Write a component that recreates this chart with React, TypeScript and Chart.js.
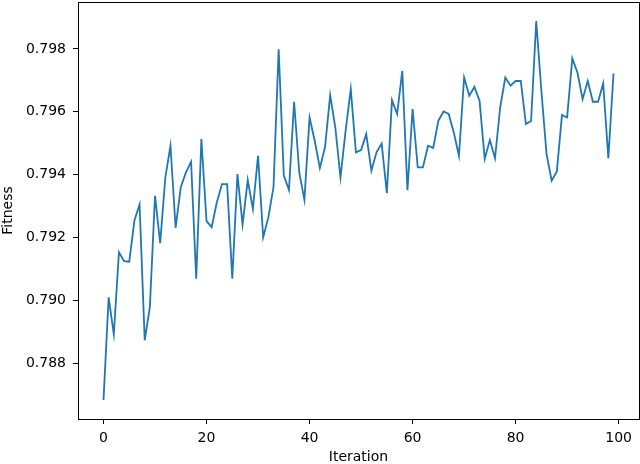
import React, { useEffect, useRef } from "react";
import { Chart, registerables } from "chart.js";

Chart.register(...registerables);

const fitness: number[] = [
  0.78683, 0.7901, 0.78892, 0.79153, 0.79125, 0.79123, 0.79254, 0.79305, 0.78873, 0.78979,
  0.79333, 0.79182, 0.79391, 0.79492, 0.79231, 0.7936, 0.79407, 0.79441, 0.79069, 0.79513,
  0.79252, 0.79233, 0.79312, 0.7937, 0.7937, 0.79069, 0.79402, 0.79241, 0.79383, 0.79291,
  0.7946, 0.79201, 0.79264, 0.7936, 0.79799, 0.79397, 0.79351, 0.79632, 0.79407, 0.7932,
  0.79582, 0.79508, 0.79421, 0.79487, 0.79653, 0.7955, 0.79391, 0.7954, 0.79672, 0.79471,
  0.79478, 0.79529, 0.79413, 0.79471, 0.79499, 0.79341, 0.79637, 0.79593, 0.7973, 0.79351,
  0.79609, 0.79423, 0.79423, 0.79492, 0.79485, 0.79571, 0.79601, 0.79593, 0.79534, 0.7946,
  0.79709, 0.79651, 0.79679, 0.79635, 0.7945, 0.7951, 0.79452, 0.79614, 0.79709, 0.79683,
  0.79698, 0.79698, 0.79561, 0.79571, 0.79889, 0.79667, 0.79466, 0.79381, 0.7941, 0.7959,
  0.79582, 0.7977, 0.79725, 0.7964, 0.79698, 0.79632, 0.79632, 0.7969, 0.79452, 0.79722,
];
const iterations: number[] = fitness.map((_, i) => i);
const xTicks: number[] = [0, 20, 40, 60, 80, 100];
const yTicks: number[] = [0.788, 0.79, 0.792, 0.794, 0.796, 0.798];
const xTitle = "Iteration";
const yTitle = "Fitness";

export default function App() {
  const ref = useRef<HTMLCanvasElement | null>(null);
  useEffect(() => {
    if (!ref.current) return;
    const yMinD = Math.min(...fitness);
    const yMaxD = Math.max(...fitness);
    const yr = yMaxD - yMinD;
    const xMinD = iterations[0];
    const xMaxD = iterations[iterations.length - 1];
    const xr = xMaxD - xMinD;
    const font = { family: "'DejaVu Sans', sans-serif", size: 14 };
    const frame = {
      id: "frame",
      afterDraw(chart: any) {
        const { ctx, chartArea: a } = chart;
        ctx.save();
        ctx.strokeStyle = "#000";
        ctx.lineWidth = 1;
        ctx.strokeRect(Math.round(a.left) + 0.5, Math.round(a.top) + 0.5, Math.round(a.right - a.left), Math.round(a.bottom - a.top));
        ctx.restore();
      },
    };
    const zeroPad = (s: any) => {
      s.paddingTop = 0;
      s.paddingBottom = 0;
      s.paddingLeft = 0;
      s.paddingRight = 0;
    };
    const chart = new Chart(ref.current, {
      type: "line",
      data: {
        datasets: [
          {
            data: fitness.map((v, i) => ({ x: iterations[i], y: v })),
            borderColor: "#1f77b4",
            borderWidth: 1.8,
            pointRadius: 0,
            tension: 0,
            fill: false,
          },
        ],
      },
      options: {
        animation: false,
        responsive: false,
        layout: { padding: { top: 2, right: 1, left: 0, bottom: 0 } },
        plugins: { legend: { display: false }, tooltip: { enabled: false } },
        scales: {
          x: {
            type: "linear",
            min: xMinD - 0.05 * xr,
            max: xMaxD + 0.05 * xr,
            afterBuildTicks: (s: any) => {
              s.ticks = xTicks.map((v) => ({ value: v }));
            },
            afterFit: (s: any) => {
              s.height = 45;
              zeroPad(s);
            },
            ticks: { color: "#000", font, padding: 6, maxRotation: 0, autoSkip: false },
            grid: { display: true, drawOnChartArea: false, drawTicks: true, tickLength: 5, tickColor: "#000" },
            border: { display: true, color: "#000", width: 1 },
            title: { display: true, text: xTitle, color: "#000", font: { ...font, lineHeight: 1 }, padding: { top: 0, bottom: 0 } },
          },
          y: {
            type: "linear",
            min: yMinD - 0.05 * yr,
            max: yMaxD + 0.05 * yr,
            afterBuildTicks: (s: any) => {
              s.ticks = yTicks.map((v) => ({ value: v }));
            },
            afterFit: (s: any) => {
              s.width = 78;
              zeroPad(s);
            },
            ticks: { color: "#000", font, padding: 7, callback: (v: any) => Number(v).toFixed(3), autoSkip: false },
            grid: { display: true, drawOnChartArea: false, drawTicks: true, tickLength: 5, tickColor: "#000" },
            border: { display: true, color: "#000", width: 1 },
            title: { display: true, text: yTitle, color: "#000", font, padding: { top: 0, bottom: 0 } },
          },
        },
      },
      plugins: [frame],
    });
    return () => chart.destroy();
  }, []);
  return (
    <div style={{ position: "fixed", left: 0, top: 0, width: 640, height: 464, background: "#fff" }}>
      <canvas ref={ref} width={640} height={464} />
    </div>
  );
}
